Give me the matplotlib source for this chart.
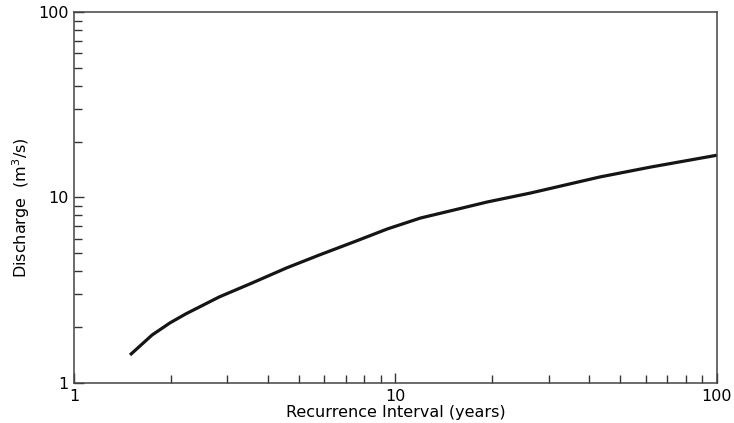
import matplotlib
matplotlib.use("Agg")
import matplotlib.pyplot as plt
from matplotlib.ticker import LogLocator, FixedLocator, NullFormatter, FixedFormatter

recurrence_years = [1.494, 1.75, 1.99, 2.23, 2.83, 3.58, 4.58, 5.80, 7.40, 9.44,
                    11.96, 15.2, 19.3, 26.3, 43.2, 62.3, 100.0]
discharge_m3s = [1.416, 1.815, 2.11, 2.36, 2.91, 3.46, 4.17, 4.90, 5.75, 6.77,
                 7.75, 8.56, 9.46, 10.57, 12.9, 14.6, 16.9]

major_ticks = [1, 10, 100]
major_labels = ["1", "10", "100"]

plt.rcParams['font.family'] = ['DejaVu Sans']

fig = plt.figure(figsize=(7.34, 4.23), dpi=100)
ax = fig.add_axes([0.1008, 0.0946, 0.8760, 0.8770])

ax.plot(recurrence_years, discharge_m3s, color='#151515', lw=2.3,
        solid_capstyle='butt', solid_joinstyle='round')

ax.set_xscale('log')
ax.set_yscale('log')
ax.set_xlim(1, 100)
ax.set_ylim(1, 100)

for axis in (ax.xaxis, ax.yaxis):
    axis.set_major_locator(FixedLocator(major_ticks))
    axis.set_major_formatter(FixedFormatter(major_labels))
    axis.set_minor_locator(LogLocator(base=10, subs=range(2, 10)))
    axis.set_minor_formatter(NullFormatter())

ax.tick_params(which='both', direction='in', top=False, right=False, color='#333333')
ax.tick_params(which='major', length=7, width=1.0, labelsize=11.5, pad=4)
ax.tick_params(which='minor', length=6, width=1.0)

for s in ax.spines.values():
    s.set_color('#444444')
    s.set_linewidth(1.1)

ax.set_xlabel('Recurrence Interval (years)', fontsize=11.5, labelpad=1)
ax.set_ylabel('Discharge  (m$^3$/s)', fontsize=11.5)
ax.yaxis.set_label_coords(-0.066, 0.472)

fig.savefig('out.png', dpi=100)
